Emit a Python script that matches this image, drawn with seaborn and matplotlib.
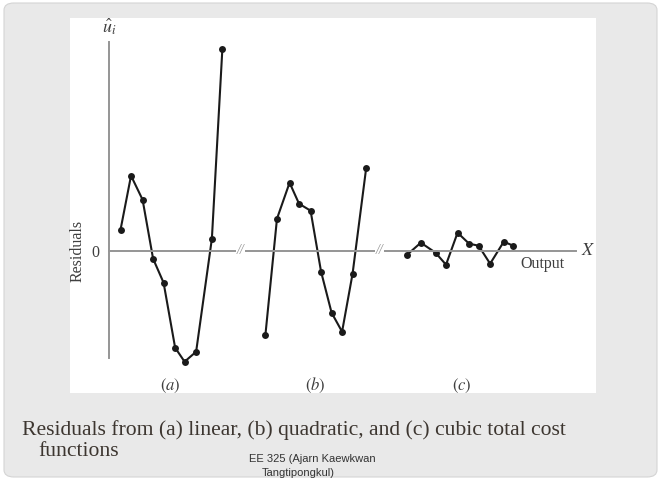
import pandas as pd
import seaborn as sns
import matplotlib.pyplot as plt
from matplotlib.patches import FancyBboxPatch, Rectangle

# Output positions and residuals (arbitrary units)
out_a = [1.1, 2.1, 3.2, 4.2, 5.2, 6.3, 7.2, 8.3, 9.8, 10.8]
res_a = [2.1, 7.5, 5.1, -0.8, -3.2, -9.7, -11.1, -10.1, 1.2, 20.2]

out_b = [14.9, 16.0, 17.2, 18.1, 19.2, 20.2, 21.2, 22.2, 23.2, 24.5]
res_b = [-8.4, 3.2, 6.8, 4.7, 4.0, -2.1, -6.2, -8.1, -2.3, 8.3]

out_c = [28.4, 29.7, 31.1, 32.1, 33.2, 34.3, 35.2, 36.3, 37.6, 38.5]
res_c = [-0.4, 0.8, -0.2, -1.4, 1.8, 0.7, 0.5, -1.3, 0.9, 0.5]

panel_labels = ['(a)', '(b)', '(c)']
axis_breaks = [12.5, 25.8]

df = pd.concat([
    pd.DataFrame({'output': out_a, 'residual': res_a, 'fit': panel_labels[0]}),
    pd.DataFrame({'output': out_b, 'residual': res_b, 'fit': panel_labels[1]}),
    pd.DataFrame({'output': out_c, 'residual': res_c, 'fit': panel_labels[2]}),
])

sns.set_style('white')
plt.rcParams['font.family'] = ['Liberation Serif', 'DejaVu Serif']
plt.rcParams['mathtext.fontset'] = 'stix'

W, H = 662, 480
fig = plt.figure(figsize=(W / 100, H / 100), dpi=100)
fig.patch.set_facecolor('white')


def px(x, y):
    return x / W, 1 - y / H


# slide background and white picture box
fig.patches.append(FancyBboxPatch(px(4, 477), 653 / W, 474 / H,
                                  boxstyle='round,pad=0,rounding_size=0.015',
                                  transform=fig.transFigure, facecolor='#e9e9e9',
                                  edgecolor='#d4d4d4', lw=0.8, zorder=-2))
fig.patches.append(Rectangle(px(70, 393), 526 / W, 375 / H,
                             transform=fig.transFigure, facecolor='white',
                             edgecolor='none', zorder=-1))

ax = fig.add_axes([0, 0, 1, 1])
ax.set_facecolor('none')
sns.lineplot(data=df, x='output', y='residual', hue='fit', units='fit',
             palette=['#1a1a1a'] * 3, estimator=None, sort=False,
             marker='o', markersize=5, markeredgewidth=0, lw=1.5,
             legend=False, ax=ax)

ax.set_xlim(-10.38, 52.67)
ax.set_ylim(-22.93, 25.07)

# axes drawn at the origin, like the textbook figure
axis_col = '#959595'
txt_col = '#3f3f3f'
for s in ['top', 'right']:
    ax.spines[s].set_visible(False)
ax.spines['left'].set_position(('data', 0))
ax.spines['bottom'].set_position(('data', 0))
ax.spines['left'].set_bounds(-10.7, 20.9)
ax.spines['bottom'].set_bounds(0, 44.5)
for s in ['left', 'bottom']:
    ax.spines[s].set_color(axis_col)
    ax.spines[s].set_linewidth(1.4)
ax.set_xticks([])
ax.set_yticks([0])
ax.set_yticklabels(['0'], fontsize=11.5, color=txt_col)
ax.tick_params(axis='y', length=0, pad=7)
ax.set_xlabel('')
ax.set_ylabel('')

for b in axis_breaks:
    ax.text(b, 0, '//', ha='center', va='center', fontsize=10, color=axis_col,
            style='italic',
            bbox=dict(facecolor='white', edgecolor='none', pad=0.5))

ax.text(-3.0, 0, 'Residuals', rotation=90, ha='center', va='center',
        fontsize=11.5, color=txt_col)
ax.text(0, 22.4, r'$\hat{u}_i$', ha='center', va='center', fontsize=13,
        color=txt_col)
ax.text(45.6, 0, r'$X$', ha='center', va='center', fontsize=13,
        color=txt_col)
ax.text(41.3, -1.3, 'Output', ha='center', va='center', fontsize=11.5,
        color=txt_col)

for lab, xs in zip(panel_labels, [out_a, out_b, out_c]):
    ax.text(sum(xs) / len(xs), -13.5, '$(' + lab[1] + ')$', ha='center',
            va='center', fontsize=12, color=txt_col)

# slide caption and footer
fig.text(*px(22, 430), 'Residuals from (a) linear, (b) quadratic, and (c) cubic total cost',
         ha='left', va='center', fontsize=15.6, color='#3d3630')
fig.text(*px(38, 452), 'functions', ha='left', va='center', fontsize=15.6,
         color='#3d3630')
fig.text(*px(312, 459), 'EE 325 (Ajarn Kaewkwan', ha='center', va='center',
         fontsize=8, family='Liberation Sans', color='#333333')
fig.text(*px(298, 473), 'Tangtipongkul)', ha='center', va='center',
         fontsize=8, family='Liberation Sans', color='#333333')

fig.savefig('out.png', dpi=100)
